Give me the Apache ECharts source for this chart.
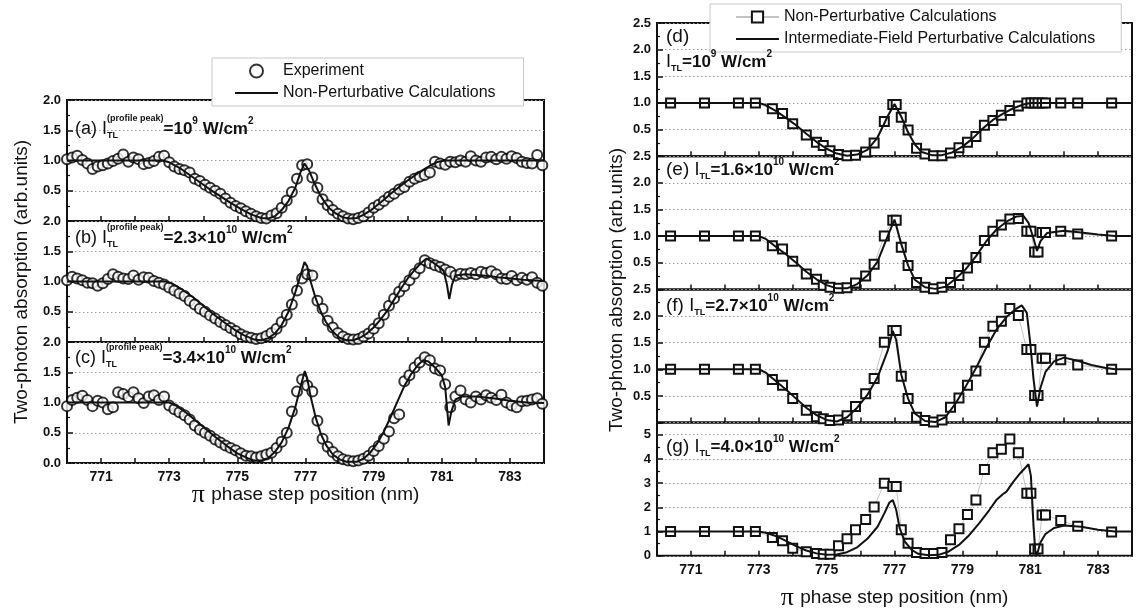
<!DOCTYPE html>
<html><head><meta charset="utf-8">
<script src="https://cdn.jsdelivr.net/npm/echarts/dist/echarts.min.js"></script>
<style>html,body{margin:0;padding:0;background:#fff}#c{width:1143px;height:613px}</style>
</head><body><div id="c"></div>
<script>
// ---------- DATA ----------
const xLabelVals = [771, 773, 775, 777, 779, 781, 783];

// experimental sampling positions (nm), left panels
const expX = [770.00,770.15,770.30,770.45,770.60,770.75,770.90,771.05,771.20,771.35,771.50,771.65,771.80,771.95,772.10,772.25,772.40,772.55,772.70,772.85,
773.00,773.15,773.30,773.45,773.60,773.75,773.90,774.05,774.20,774.35,774.50,774.65,774.80,774.95,775.10,775.25,775.40,775.55,775.70,775.85,
776.00,776.15,776.30,776.45,776.60,776.75,776.90,777.05,777.20,777.35,777.50,777.65,777.80,777.95,778.10,778.25,778.40,778.55,778.70,778.85,
779.00,779.15,779.30,779.45,779.60,779.75,779.90,780.05,780.20,780.35,780.50,780.65,780.80,780.95,781.10,781.25,781.40,781.55,781.70,781.85,
782.00,782.15,782.30,782.45,782.60,782.75,782.90,783.05,783.20,783.35,783.50,783.65,783.80,783.95];

const expA = [1.02,1.05,1.08,1.01,0.95,0.86,0.90,0.92,0.95,0.99,1.03,1.10,0.98,1.05,1.02,0.94,0.96,0.99,1.06,1.08,
0.97,0.90,0.86,0.84,0.80,0.70,0.66,0.60,0.55,0.50,0.45,0.37,0.30,0.25,0.21,0.16,0.12,0.08,0.05,0.04,
0.09,0.13,0.22,0.34,0.48,0.70,0.92,0.94,0.72,0.55,0.36,0.26,0.18,0.12,0.08,0.04,0.03,0.05,0.08,0.14,
0.22,0.27,0.33,0.40,0.45,0.52,0.56,0.65,0.70,0.73,0.76,0.80,0.98,0.95,0.93,0.98,0.97,1.00,0.98,1.07,
1.00,0.98,1.05,1.06,1.02,1.06,1.03,1.07,1.04,0.98,0.96,0.95,1.09,0.92];

const expB = [1.02,1.08,1.05,1.02,0.98,0.97,0.93,0.97,1.04,1.12,1.08,1.05,1.04,1.10,1.03,1.07,1.06,1.01,0.98,0.95,
0.90,0.85,0.80,0.76,0.68,0.62,0.55,0.50,0.44,0.39,0.33,0.28,0.23,0.18,0.13,0.09,0.07,0.05,0.06,0.10,
0.15,0.22,0.33,0.45,0.62,0.85,1.05,1.12,1.10,0.68,0.55,0.35,0.24,0.15,0.09,0.05,0.04,0.05,0.09,0.14,
0.22,0.31,0.45,0.60,0.72,0.83,0.92,1.02,1.13,1.22,1.35,1.30,1.27,1.24,1.20,1.16,1.10,1.13,1.12,1.14,
1.12,1.16,1.14,1.17,1.12,1.05,1.04,1.09,1.02,1.06,1.03,1.07,0.98,0.93];

const expC = [0.94,1.04,1.08,1.11,1.04,0.94,1.03,1.00,0.89,0.92,1.17,1.14,1.09,1.17,1.07,0.99,1.10,1.12,1.04,1.10,
0.95,0.89,0.84,0.79,0.72,0.62,0.55,0.50,0.45,0.39,0.34,0.29,0.25,0.21,0.16,0.12,0.11,0.09,0.11,0.14,
0.17,0.25,0.35,0.50,0.85,1.18,1.38,1.28,1.18,0.70,0.40,0.27,0.18,0.11,0.06,0.04,0.03,0.04,0.07,0.12,
0.20,0.28,0.40,0.52,0.74,0.80,1.35,1.45,1.58,1.66,1.75,1.70,1.56,1.53,1.30,0.92,1.10,1.20,1.05,1.00,
1.10,1.05,1.12,1.08,1.04,1.13,1.00,0.95,0.92,1.02,1.03,1.05,1.07,0.98];

// non-perturbative calculation curves (left panels)
const thA = [[770,1],[772.8,1],[773.0,0.97],[773.3,0.88],[773.6,0.76],[773.9,0.64],[774.2,0.52],[774.5,0.41],[774.8,0.30],[775.1,0.20],[775.4,0.11],[775.7,0.05],[775.9,0.04],[776.1,0.08],[776.3,0.18],[776.5,0.33],[776.7,0.55],[776.85,0.80],[776.97,0.95],[777.1,0.84],[777.25,0.64],[777.4,0.46],[777.55,0.32],[777.7,0.21],[777.9,0.12],[778.1,0.06],[778.3,0.04],[778.5,0.05],[778.7,0.10],[778.9,0.17],[779.1,0.26],[779.3,0.35],[779.5,0.45],[779.7,0.54],[779.9,0.63],[780.1,0.71],[780.3,0.79],[780.5,0.86],[780.7,0.93],[780.9,0.98],[781.1,1.0],[784,1.0]];
const thB = [[770,1],[772.9,1],[773.1,0.96],[773.4,0.86],[773.7,0.74],[774.0,0.60],[774.3,0.46],[774.6,0.33],[774.9,0.21],[775.2,0.11],[775.5,0.04],[775.7,0.03],[775.9,0.06],[776.1,0.14],[776.3,0.28],[776.5,0.50],[776.7,0.82],[776.85,1.10],[776.97,1.32],[777.05,1.25],[777.15,1.00],[777.3,0.72],[777.45,0.50],[777.6,0.33],[777.8,0.17],[778.0,0.07],[778.2,0.03],[778.4,0.03],[778.6,0.07],[778.8,0.14],[779.0,0.24],[779.2,0.37],[779.4,0.52],[779.6,0.70],[779.8,0.88],[780.0,1.05],[780.2,1.19],[780.4,1.31],[780.55,1.38],[780.7,1.33],[780.9,1.25],[781.05,1.18],[781.15,0.95],[781.22,0.71],[781.3,0.95],[781.4,1.10],[781.7,1.12],[782.2,1.10],[782.8,1.06],[783.4,1.03],[784,1.01]];
const thC = [[770,1],[773.0,1],[773.2,0.95],[773.5,0.83],[773.8,0.69],[774.1,0.55],[774.4,0.41],[774.7,0.28],[775.0,0.16],[775.3,0.08],[775.5,0.04],[775.7,0.04],[775.9,0.08],[776.1,0.18],[776.3,0.34],[776.5,0.58],[776.7,0.92],[776.85,1.25],[776.98,1.52],[777.05,1.40],[777.15,1.10],[777.3,0.75],[777.45,0.48],[777.6,0.30],[777.8,0.14],[778.0,0.06],[778.2,0.02],[778.5,0.02],[778.7,0.07],[778.9,0.17],[779.1,0.32],[779.3,0.52],[779.5,0.76],[779.7,1.02],[779.9,1.27],[780.1,1.47],[780.3,1.62],[780.45,1.70],[780.6,1.68],[780.8,1.58],[781.0,1.45],[781.1,1.25],[781.2,0.62],[781.28,0.85],[781.4,1.05],[781.6,1.10],[782.0,1.10],[782.5,1.07],[783.0,1.03],[783.5,1.0],[784,0.99]];

// non-perturbative calculation points (right panels)
const sqX = [770.40,771.40,772.40,772.90,773.40,773.70,774.00,774.40,774.70,774.90,775.10,775.35,775.60,775.85,776.15,776.40,776.70,776.95,777.05,777.20,777.40,777.65,777.90,778.15,778.40,778.65,778.90,779.15,779.40,779.65,779.90,780.15,780.40,780.65,780.90,781.02,781.13,781.23,781.35,781.45,781.90,782.40,783.40];
const sqD = [1,1,1,1,0.89,0.80,0.61,0.40,0.26,0.20,0.10,0.03,0.01,0.02,0.08,0.25,0.65,0.97,0.97,0.73,0.49,0.15,0.04,0.01,0.01,0.06,0.16,0.26,0.37,0.58,0.67,0.77,0.86,0.94,1.0,1.0,1.0,1.0,1.0,1.0,1.0,1.0,1.0];
const sqE = [1,1,1,1,0.82,0.76,0.53,0.29,0.19,0.08,0.04,0.02,0.03,0.12,0.25,0.47,1.0,1.30,1.30,0.79,0.45,0.13,0.04,0.01,0.04,0.13,0.26,0.40,0.60,0.92,1.09,1.21,1.32,1.33,1.09,1.09,0.70,0.70,1.07,1.07,1.09,1.04,1.0];
const sqF = [1,1,1,1,0.81,0.70,0.45,0.23,0.11,0.07,0.04,0.05,0.13,0.30,0.54,0.83,1.51,1.73,1.73,0.87,0.45,0.10,0.04,0.01,0.05,0.29,0.46,0.70,0.97,1.51,1.81,1.90,2.14,2.01,1.37,1.37,0.51,0.51,1.21,1.21,1.18,1.08,1.0];
const sqG = [1,1,1,1,0.76,0.62,0.31,0.17,0.10,0.06,0.06,0.42,0.70,1.08,1.50,2.02,3.0,2.86,2.86,1.08,0.52,0.14,0.10,0.10,0.14,0.66,1.12,1.71,2.30,3.56,4.26,4.40,4.82,4.26,2.58,2.58,0.28,0.28,1.68,1.68,1.46,1.22,0.98];

// intermediate-field perturbative calculation curves (right panels)
const ipD = [[770,1],[773,1],[773.2,0.96],[773.5,0.85],[773.8,0.72],[774.1,0.58],[774.4,0.42],[774.7,0.27],[775.0,0.14],[775.3,0.05],[775.6,0.01],[775.9,0.03],[776.2,0.12],[776.5,0.35],[776.8,0.75],[777.0,0.98],[777.2,0.74],[777.4,0.45],[777.6,0.22],[777.8,0.08],[778.1,0.02],[778.4,0.02],[778.7,0.07],[779.0,0.18],[779.3,0.33],[779.6,0.52],[779.9,0.68],[780.2,0.80],[780.5,0.90],[780.8,0.97],[781.0,1.0],[784,1.0]];
const ipE = [[770,1],[773,1],[773.2,0.95],[773.5,0.80],[773.8,0.66],[774.1,0.50],[774.4,0.33],[774.7,0.19],[775.0,0.08],[775.3,0.02],[775.6,0.02],[775.9,0.10],[776.2,0.26],[776.5,0.52],[776.8,1.0],[777.0,1.31],[777.2,0.85],[777.4,0.45],[777.6,0.18],[777.9,0.04],[778.2,0.01],[778.5,0.05],[778.8,0.20],[779.1,0.38],[779.4,0.62],[779.7,0.90],[780.0,1.12],[780.3,1.27],[780.6,1.37],[780.8,1.38],[780.95,1.25],[781.1,0.95],[781.2,0.72],[781.3,0.90],[781.5,1.06],[782.0,1.10],[782.5,1.07],[783.0,1.03],[783.5,1.0],[784,1.0]];
const ipF = [[770,1],[773,1],[773.2,0.94],[773.5,0.78],[773.8,0.62],[774.1,0.45],[774.4,0.28],[774.7,0.14],[775.0,0.05],[775.3,0.02],[775.6,0.10],[775.9,0.28],[776.2,0.52],[776.5,0.85],[776.8,1.35],[776.95,1.72],[777.05,1.55],[777.2,0.90],[777.4,0.45],[777.6,0.17],[777.9,0.03],[778.2,0.01],[778.5,0.10],[778.8,0.36],[779.1,0.68],[779.4,1.02],[779.7,1.40],[780.0,1.74],[780.3,1.98],[780.55,2.12],[780.75,2.20],[780.9,2.06],[781.0,1.50],[781.1,0.80],[781.2,0.30],[781.3,0.65],[781.45,0.95],[781.7,1.15],[782.0,1.22],[782.4,1.16],[782.8,1.08],[783.2,1.03],[783.5,1.0],[784,1.0]];
const ipG = [[770,1],[773,1],[773.2,0.95],[773.5,0.82],[773.8,0.62],[774.1,0.40],[774.4,0.22],[774.7,0.10],[775.0,0.04],[775.3,0.05],[775.6,0.15],[775.9,0.35],[776.2,0.70],[776.5,1.20],[776.7,1.75],[776.85,2.20],[776.95,2.30],[777.05,1.90],[777.15,1.15],[777.3,0.60],[777.5,0.25],[777.7,0.08],[778.0,0.02],[778.3,0.04],[778.6,0.18],[778.9,0.45],[779.2,0.85],[779.5,1.35],[779.8,1.90],[780.0,2.30],[780.2,2.55],[780.3,2.65],[780.5,3.05],[780.7,3.40],[780.95,3.78],[781.02,3.30],[781.1,1.20],[781.15,0.20],[781.2,0.05],[781.3,0.55],[781.45,0.90],[781.7,1.15],[782.0,1.25],[782.5,1.20],[783.0,1.08],[783.5,1.0],[784,1.0]];

// ---------- LAYOUT ----------
const FN = '"Liberation Sans", Arial, sans-serif';
const FNAME = 'Liberation Sans';
const INK = '#111';
const L = {left: 67, width: 477, tops: [100, 221, 342], h: 121};
const R = {left: 657, width: 475, tops: [23, 156.2, 289.4, 422.6], h: 133.2};

const grids = [], xAxes = [], yAxes = [], series = [];
function addGrid(left, top, w, h) {
  grids.push({left: left, top: top, width: w, height: h, show: true, borderColor: INK, borderWidth: 2, backgroundColor: 'transparent'});
  return grids.length - 1;
}
function addX(gi, showLabels) {
  xAxes.push({gridIndex: gi, type: 'value', min: 770, max: 784, interval: 1,
    axisLine: {show: false}, splitLine: {show: false},
    axisTick: {show: true, inside: true, length: 5, lineStyle: {color: INK, width: 1.5}},
    axisLabel: {show: showLabels, margin: 7, fontFamily: FN, fontWeight: 'bold', fontSize: 14, color: INK,
      formatter: v => xLabelVals.indexOf(Math.round(v)) >= 0 ? String(Math.round(v)) : ''}});
}
function addY(gi, max, interval, dec, showMin, showMax) {
  yAxes.push({gridIndex: gi, type: 'value', min: 0, max: max, interval: interval,
    axisLine: {show: false},
    axisTick: {show: true, inside: true, length: 6, lineStyle: {color: INK, width: 1.5}},
    minorTick: {show: true, splitNumber: 2, length: 3, lineStyle: {color: INK, width: 1.2}},
    splitLine: {show: true, lineStyle: {color: '#9a9a9a', type: [1.5, 2.5], width: 1}},
    axisLabel: {margin: 6, fontFamily: FN, fontWeight: 'bold', fontSize: 13, color: INK,
      showMinLabel: showMin, showMaxLabel: showMax,
      formatter: v => v.toFixed(dec)}});
}
const zip = (xs, ys) => xs.map((x, i) => [x, ys[i]]);

const leftSets = [[expA, thA], [expB, thB], [expC, thC]];
leftSets.forEach((s, i) => {
  const gi = addGrid(L.left, L.tops[i], L.width, L.h);
  addX(gi, i === 2);
  addY(gi, 2, 0.5, 1, i === 2, true);
  series.push({type: 'scatter', name: 'Experiment', xAxisIndex: gi, yAxisIndex: gi, data: zip(expX, s[0]),
    symbol: 'emptyCircle', symbolSize: 10, itemStyle: {color: '#000', borderColor: '#000', borderWidth: 1.4}, z: 2, silent: true});
  series.push({type: 'line', name: 'Non-Perturbative Calculations', xAxisIndex: gi, yAxisIndex: gi, data: s[1],
    symbol: 'none', showSymbol: false, itemStyle: {color: INK, opacity: 0}, lineStyle: {color: INK, width: 2}, z: 3, silent: true});
});
const rightSets = [[sqD, ipD, 2.5, 0.5, 1], [sqE, ipE, 2.5, 0.5, 1], [sqF, ipF, 2.5, 0.5, 1], [sqG, ipG, 5.5, 1, 0]];
rightSets.forEach((s, j) => {
  const gi = addGrid(R.left, R.tops[j], R.width, R.h);
  addX(gi, j === 3);
  addY(gi, s[2], s[3], s[4], j === 3, j !== 3);
  series.push({type: 'line', name: 'Non-Perturbative Calculations ', xAxisIndex: gi, yAxisIndex: gi, data: zip(sqX, s[0]),
    symbol: 'emptyRect', symbolSize: 9, showSymbol: true, showAllSymbol: true,
    itemStyle: {color: INK, borderColor: INK, borderWidth: 1.4},
    lineStyle: {color: '#c4c4c4', width: 1}, z: 2, silent: true});
  series.push({type: 'line', name: 'Intermediate-Field Perturbative Calculations', xAxisIndex: gi, yAxisIndex: gi, data: s[1],
    symbol: 'none', showSymbol: false, itemStyle: {color: INK, opacity: 0}, lineStyle: {color: INK, width: 2}, z: 3, silent: true});
});

// ---------- TEXT helpers ----------
const mctx = document.createElement('canvas').getContext('2d');
function tw(t, font) { mctx.font = font; return mctx.measureText(t).width; }
function fontOf(p) { return (p.b ? 'bold ' : '') + p.s + 'px "' + (p.fam || FNAME) + '"'; }
function textEl(t, font, x, y, extra) {
  return Object.assign({type: 'text', silent: true, z: 100,
    style: {text: t, font: font, x: x, y: y, fill: INK, align: 'left', verticalAlign: 'middle', textAlign: 'left', textVerticalAlign: 'middle'}}, extra || {});
}
function runText(x, y, parts) {
  const els = []; let cx = x; let pend = null;
  parts.forEach(p => {
    const f = fontOf(p); const w = tw(p.t, f); let px;
    if (pend) { px = pend.x; cx = pend.x + Math.max(pend.w, w); pend = null; }
    else { px = cx; if (p.stack) pend = {x: px, w: w}; else cx = px + w; }
    els.push(textEl(p.t, f, px, y + (p.dy || 0)));
  });
  return {els: els, width: cx - x};
}
const graphics = [];
function addRun(x, y, parts) { runText(x, y, parts).els.forEach(e => graphics.push(e)); }
function addRunCentered(cx, y, parts) {
  const w = runText(0, 0, parts).width; addRun(cx - w / 2, y, parts);
}
const SUPDY = -8, SUBDY = 7;
function leftLabel(tag, val, exp) {
  return [{t: tag + ' ', s: 18}, {t: 'I', s: 18}, {t: 'TL', s: 9, b: 1, dy: SUBDY, stack: 1}, {t: '(profile peak)', s: 9, b: 1, dy: -10},
    {t: '=' + val, s: 17, b: 1}, {t: exp, s: 10, b: 1, dy: SUPDY}, {t: ' W/cm', s: 17, b: 1}, {t: '2', s: 10, b: 1, dy: SUPDY}];
}
addRun(75, 129, leftLabel('(a)', '10', '9'));
addRun(75, 238, leftLabel('(b)', '2.3\u00d710', '10'));
addRun(75, 358, leftLabel('(c)', '3.4\u00d710', '10'));
function iPart(val, exp) {
  return [{t: 'I', s: 18}, {t: 'TL', s: 9, b: 1, dy: SUBDY}, {t: '=' + val, s: 17, b: 1}, {t: exp, s: 10, b: 1, dy: SUPDY},
    {t: ' W/cm', s: 17, b: 1}, {t: '2', s: 10, b: 1, dy: SUPDY}];
}
addRun(666, 37, [{t: '(d)', s: 19}]);
addRun(666, 62, iPart('10', '9'));
addRun(666, 170, [{t: '(e) ', s: 19}].concat(iPart('1.6\u00d710', '10')));
addRun(666, 306, [{t: '(f) ', s: 19}].concat(iPart('2.7\u00d710', '10')));
addRun(666, 447, [{t: '(g) ', s: 19}].concat(iPart('4.0\u00d710', '10')));

// axis titles
function vTitle(x, y) {
  return {type: 'text', silent: true, z: 100, x: x, y: y, rotation: Math.PI / 2,
    style: {text: 'Two-photon absorption (arb.units)', font: '19px "' + FNAME + '"', x: 0, y: 0, fill: INK,
      align: 'center', verticalAlign: 'middle', textAlign: 'center', textVerticalAlign: 'middle'}};
}
graphics.push(vTitle(22, 282));
graphics.push(vTitle(617, 290));
const xTitle = [{t: '\u03c0 ', s: 26, fam: 'Liberation Serif'}, {t: 'phase step position (nm)', s: 19}];
addRunCentered(L.left + L.width / 2, 495, xTitle);
addRunCentered(R.left + R.width / 2, 598, xTitle);

// ---------- CHART ----------
const chart = echarts.init(document.getElementById('c'), null, {renderer: 'canvas'});
chart.setOption({
  animation: false,
  backgroundColor: '#fff',
  grid: grids, xAxis: xAxes, yAxis: yAxes, series: series,
  legend: [
    {left: 212, top: 58, orient: 'vertical', selectedMode: false, itemGap: 6, itemWidth: 43, itemHeight: 13,
      padding: [5, 28, 5, 22], backgroundColor: '#fff', borderColor: '#c8c8c8', borderWidth: 1,
      textStyle: {fontFamily: FN, fontSize: 16, color: INK},
      data: ['Experiment', 'Non-Perturbative Calculations'], z: 20},
    {left: 710, top: 4, orient: 'vertical', selectedMode: false, itemGap: 6, itemWidth: 43, itemHeight: 14,
      padding: [5, 26, 5, 25], backgroundColor: '#fff', borderColor: '#c8c8c8', borderWidth: 1,
      textStyle: {fontFamily: FN, fontSize: 16, color: INK},
      data: ['Non-Perturbative Calculations ', 'Intermediate-Field Perturbative Calculations'], z: 20}
  ],
  graphic: graphics
});
</script></body></html>
